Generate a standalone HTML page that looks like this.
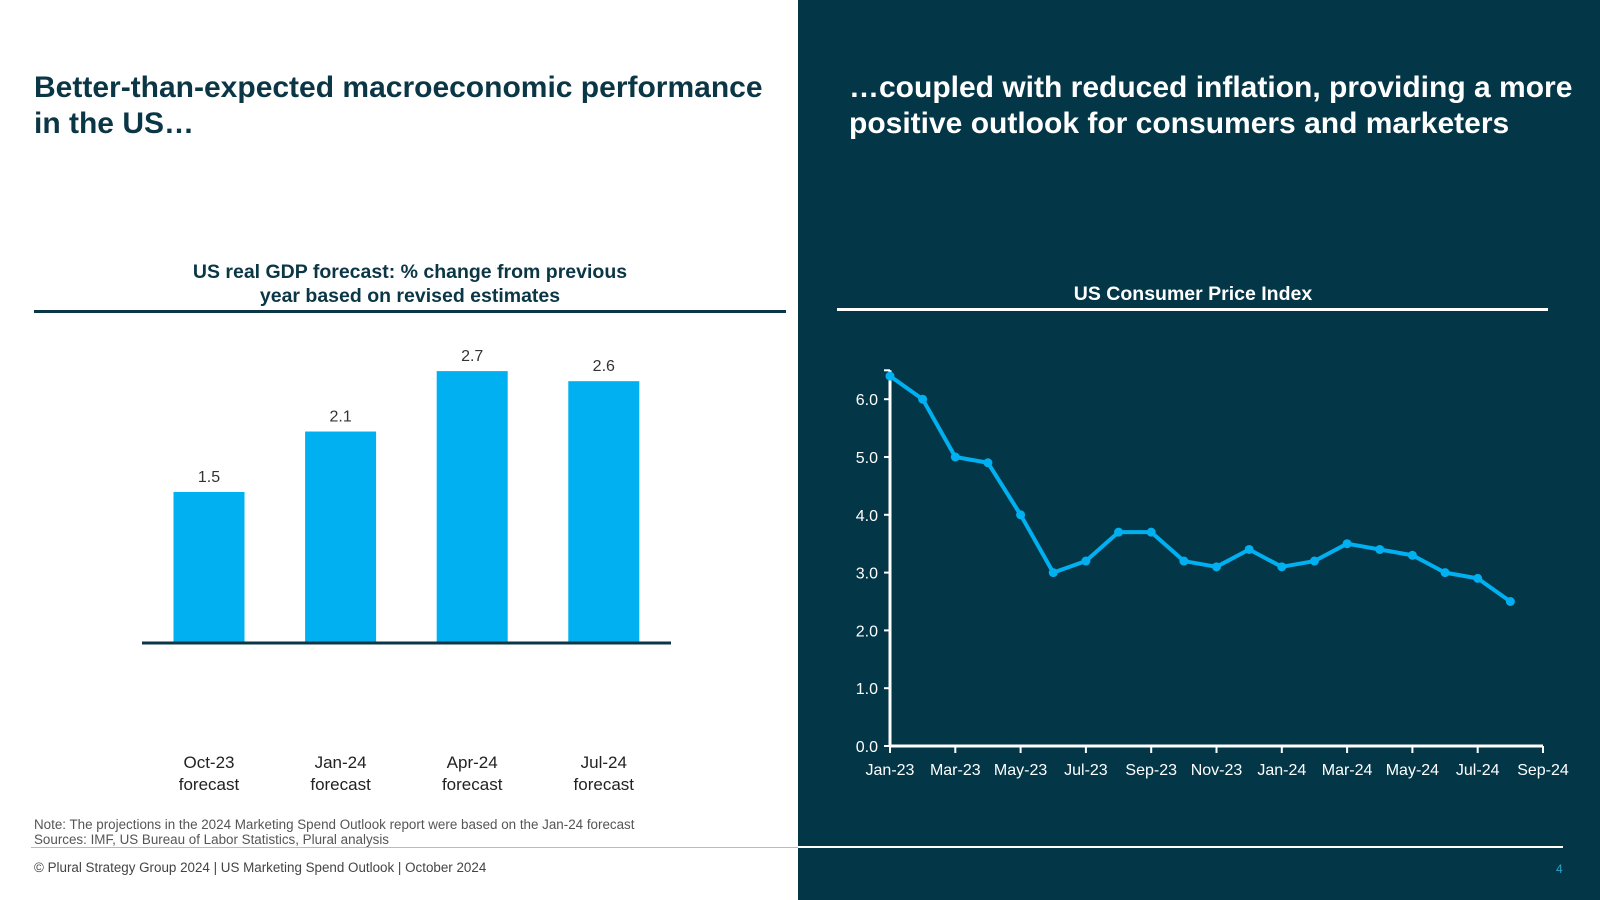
<!DOCTYPE html>
<html><head><meta charset="utf-8"><style>
body{margin:0;width:1600px;height:900px;position:relative;overflow:hidden;font-family:"Liberation Sans",sans-serif;background:#fff}
.a{position:absolute}
</style></head><body>
<div class="a" style="left:798px;top:0;width:802px;height:900px;background:#033647"></div>
<div class="a" style="left:34px;top:70px;font-size:30px;font-weight:bold;color:#0b3645;line-height:36px">Better-than-expected macroeconomic performance<br>in the US…</div>
<div class="a" style="left:849px;top:70px;font-size:30px;font-weight:bold;color:#fff;line-height:36px">…coupled with reduced inflation, providing a more<br>positive outlook for consumers and marketers</div>
<div class="a" style="left:160px;top:260px;width:500px;text-align:center;font-size:19.5px;font-weight:bold;color:#0b3645;line-height:24px">US real GDP forecast: % change from previous<br>year based on revised estimates</div>
<div class="a" style="left:34px;top:310px;width:752px;height:3px;background:#0b3645"></div>
<div class="a" style="left:993px;top:283px;width:400px;text-align:center;font-size:19.5px;font-weight:bold;color:#fff">US Consumer Price Index</div>
<div class="a" style="left:837px;top:308px;width:711px;height:3px;background:#fff"></div>
<svg class="a" id="gdp" style="left:0;top:0" width="800" height="900"></svg>
<svg class="a" id="cpi" style="left:800px;top:0" width="800" height="900"></svg>
<div class="a" style="left:34px;top:818px;font-size:13.4px;color:#555;line-height:14.5px">Note: The projections in the 2024 Marketing Spend Outlook report were based on the Jan-24 forecast<br>Sources: IMF, US Bureau of Labor Statistics, Plural analysis</div>
<div class="a" style="left:31px;top:847px;width:767px;height:1px;background:#bbb"></div>
<div class="a" style="left:798px;top:846px;width:765px;height:2px;background:#fff"></div>
<div class="a" style="left:34px;top:860px;font-size:13.4px;color:#444">© Plural Strategy Group 2024 | US Marketing Spend Outlook | October 2024</div>
<div class="a" style="left:1556px;top:862px;font-size:12px;color:#2aa6c8">4</div>
<script>
const NS='http://www.w3.org/2000/svg';
function mk(p,t,at,txt){const e=document.createElementNS(NS,t);for(const k in at)e.setAttribute(k,at[k]);if(txt!=null)e.textContent=txt;p.appendChild(e);return e;}
// GDP data
const gdpCats=[["Oct-23","forecast"],["Jan-24","forecast"],["Apr-24","forecast"],["Jul-24","forecast"]];
const gdpVals=[1.5,2.1,2.7,2.6];
const g=document.getElementById('gdp');
const gy=v=>643-v*100.7, gx=i=>209+i*131.6;
gdpVals.forEach((v,i)=>{
 const r=mk(g,'rect',{x:gx(i)-35.5,y:gy(v),width:71,height:643-gy(v),fill:'#00b0f0'});
 
 
 const t=mk(g,'text',{x:gx(i),y:gy(v)-10,'text-anchor':'middle','font-size':16,fill:'#333'},v.toFixed(1));
 
 
 gdpCats[i].forEach((s,j)=>{const c=mk(g,'text',{x:gx(i),y:768+j*22,'text-anchor':'middle','font-size':17,fill:'#222'},s);
 
 });
});
const ax=mk(g,'line',{x1:142,x2:671,y1:643,y2:643,stroke:'#0b3645','stroke-width':3});


// CPI data
const cpiVals=[6.4,6.0,5.0,4.9,4.0,3.0,3.2,3.7,3.7,3.2,3.1,3.4,3.1,3.2,3.5,3.4,3.3,3.0,2.9,2.5];
const cpiTicks=[0,1,2,3,4,5,6];
const cpiXLabels=["Jan-23","Mar-23","May-23","Jul-23","Sep-23","Nov-23","Jan-24","Mar-24","May-24","Jul-24","Sep-24"];
const c=document.getElementById('cpi');
const cx=i=>90+i*32.65, cy=v=>746-v*57.8;
const yl=mk(c,'line',{x1:90,x2:90,y1:cy(6.5),y2:746,stroke:'#fff','stroke-width':3});


const xl=mk(c,'line',{x1:89,x2:cx(20),y1:746,y2:746,stroke:'#fff','stroke-width':3});


mk(c,'line',{x1:84,x2:90,y1:cy(6.5),y2:cy(6.5),stroke:'#fff','stroke-width':2});
cpiTicks.forEach(v=>{
 mk(c,'line',{x1:84,x2:90,y1:cy(v),y2:cy(v),stroke:'#fff','stroke-width':2});
 const t=mk(c,'text',{x:78,y:cy(v)+6,'text-anchor':'end','font-size':16,fill:'#fff'},v.toFixed(1));
 
 
});
cpiXLabels.forEach((s,k)=>{
 const x=cx(k*2);
 mk(c,'line',{x1:x,x2:x,y1:746,y2:753,stroke:'#fff','stroke-width':2});
 const t=mk(c,'text',{x:x,y:775,'text-anchor':'middle','font-size':16,fill:'#fff'},s);
 
 
});
const pl=mk(c,'polyline',{points:cpiVals.map((v,i)=>cx(i)+','+cy(v)).join(' '),fill:'none',stroke:'#00b0f0','stroke-width':4,'stroke-linejoin':'round'});


cpiVals.forEach((v,i)=>{const p=mk(c,'circle',{cx:cx(i),cy:cy(v),r:4.5,fill:'#00b0f0'});
 
 });
</script>
</body></html>
